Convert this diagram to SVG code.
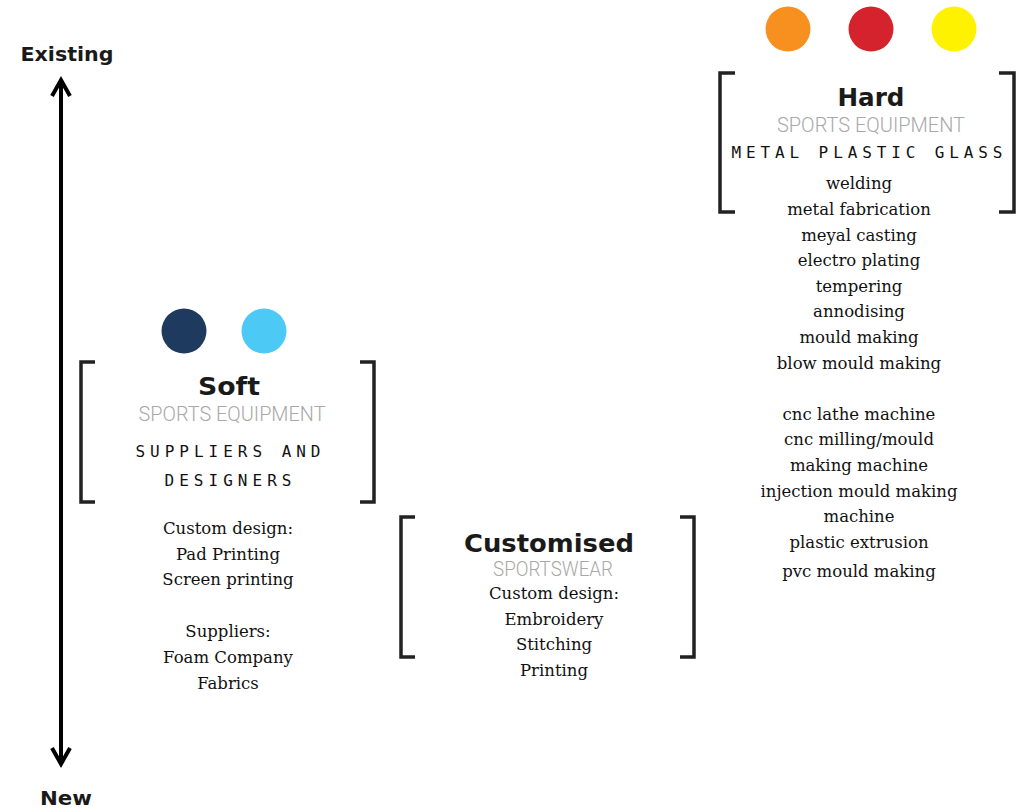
<svg xmlns="http://www.w3.org/2000/svg" width="1027" height="809" viewBox="0 0 1027 809">
<style>
.bracket{fill:none;stroke:#222;stroke-width:3.5}
.title{font-family:"DejaVu Sans","Noto Sans",sans-serif;font-weight:bold;font-size:25px;fill:#1a1a1a;text-anchor:middle}
.sub{font-family:Roboto,"Liberation Sans",sans-serif;font-weight:300;font-size:20px;fill:#a8a8a8;text-anchor:middle}
.mono{font-family:"DejaVu Sans Mono","Liberation Mono",monospace;font-size:16px;fill:#111;text-anchor:middle}
.item{font-family:"DejaVu Serif","Liberation Serif",serif;font-size:16.5px;fill:#111;text-anchor:middle}
.axis{font-family:"DejaVu Sans","Noto Sans",sans-serif;font-weight:bold;font-size:19px;fill:#1a1a1a;text-anchor:middle}
.shaft{stroke:#000;stroke-width:4;fill:none}
.head{stroke:#000;stroke-width:4;fill:none;stroke-linejoin:miter;stroke-linecap:butt}
</style>
<rect width="1027" height="809" fill="#fff"/>

<g id="connectors">
  <line class="shaft" x1="61" y1="80" x2="61" y2="764"/>
  <path class="head" d="M52,96 L61,80 L70,96"/>
  <path class="head" d="M52,748 L61,764 L70,748"/>
</g>

<g id="axis-existing"><text class="axis" x="67" y="61" textLength="93" lengthAdjust="spacingAndGlyphs">Existing</text></g>
<g id="axis-new"><text class="axis" x="66" y="805" textLength="52" lengthAdjust="spacingAndGlyphs">New</text></g>

<g id="hard-dots">
  <circle cx="788" cy="29" r="22.5" fill="#f7901e"/>
  <circle cx="871" cy="29" r="22.5" fill="#d4232c"/>
  <circle cx="954" cy="29" r="22.5" fill="#fff200"/>
</g>

<g id="hard">
  <path class="bracket" d="M735,73 H720 V212 H735"/>
  <path class="bracket" d="M999,73 H1014 V212 H999"/>
  <text class="title" x="871" y="106" textLength="67" lengthAdjust="spacingAndGlyphs">Hard</text>
  <text class="sub" x="871" y="132" textLength="188" lengthAdjust="spacingAndGlyphs">SPORTS EQUIPMENT</text>
  <text class="mono" x="867" y="158" textLength="271" lengthAdjust="spacing">METAL PLASTIC GLASS</text>
  <text class="item" x="859" y="189">welding</text>
  <text class="item" x="859" y="215">metal fabrication</text>
  <text class="item" x="859" y="241">meyal casting</text>
  <text class="item" x="859" y="266">electro plating</text>
  <text class="item" x="859" y="292">tempering</text>
  <text class="item" x="859" y="317">annodising</text>
  <text class="item" x="859" y="343">mould making</text>
  <text class="item" x="859" y="369">blow mould making</text>
  <text class="item" x="859" y="420">cnc lathe machine</text>
  <text class="item" x="859" y="445">cnc milling/mould</text>
  <text class="item" x="859" y="471">making machine</text>
  <text class="item" x="859" y="497">injection mould making</text>
  <text class="item" x="859" y="522">machine</text>
  <text class="item" x="859" y="548">plastic extrusion</text>
  <text class="item" x="859" y="577">pvc mould making</text>
</g>

<g id="soft-dots">
  <circle cx="184" cy="331" r="22.5" fill="#1f3a5f"/>
  <circle cx="264" cy="331" r="22.5" fill="#4cc9f5"/>
</g>

<g id="soft">
  <path class="bracket" d="M95,362 H81 V502 H95"/>
  <path class="bracket" d="M360,362 H374 V502 H360"/>
  <text class="title" x="229" y="395" textLength="62" lengthAdjust="spacingAndGlyphs">Soft</text>
  <text class="sub" x="232" y="421" textLength="187" lengthAdjust="spacingAndGlyphs">SPORTS EQUIPMENT</text>
  <text class="mono" x="228" y="457" textLength="185" lengthAdjust="spacing">SUPPLIERS AND</text>
  <text class="mono" x="228" y="486" textLength="127" lengthAdjust="spacing">DESIGNERS</text>
  <text class="item" x="228" y="534">Custom design:</text>
  <text class="item" x="228" y="560">Pad Printing</text>
  <text class="item" x="228" y="585">Screen printing</text>
  <text class="item" x="228" y="637">Suppliers:</text>
  <text class="item" x="228" y="663">Foam Company</text>
  <text class="item" x="228" y="689">Fabrics</text>
</g>

<g id="customised">
  <path class="bracket" d="M415,517 H401 V657 H415"/>
  <path class="bracket" d="M680,517 H694 V657 H680"/>
  <text class="title" x="549" y="552" textLength="170" lengthAdjust="spacingAndGlyphs">Customised</text>
  <text class="sub" x="553" y="576" textLength="120" lengthAdjust="spacingAndGlyphs">SPORTSWEAR</text>
  <text class="item" x="554" y="599">Custom design:</text>
  <text class="item" x="554" y="625">Embroidery</text>
  <text class="item" x="554" y="650">Stitching</text>
  <text class="item" x="554" y="676">Printing</text>
</g>
</svg>
